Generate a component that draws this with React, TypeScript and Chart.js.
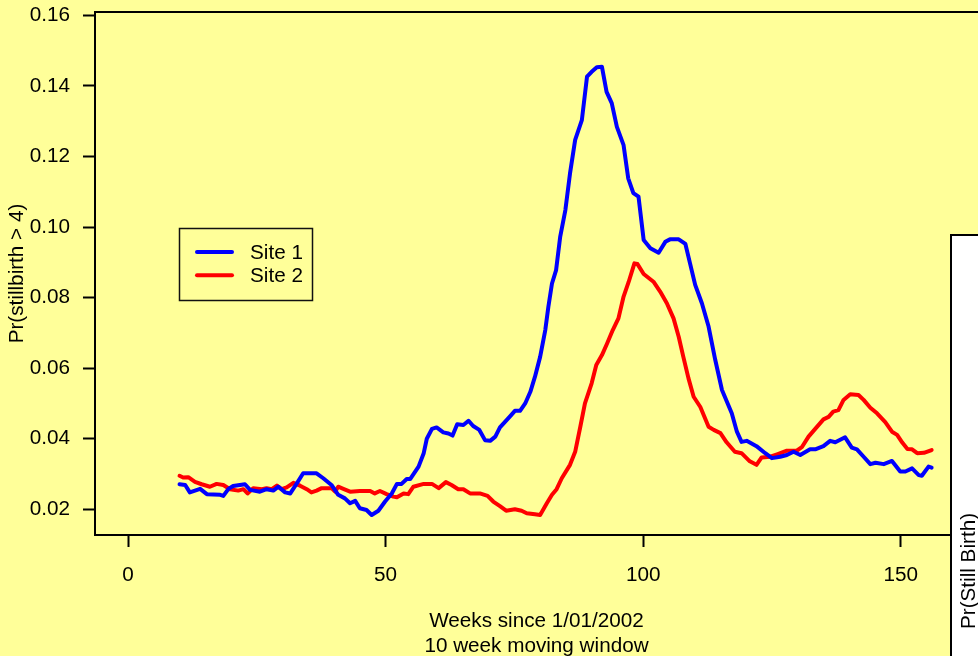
import { useEffect, useRef } from "react";
import { Chart, registerables } from "chart.js";

Chart.register(...registerables);

const FONT = '"Liberation Sans", Arial, Helvetica, sans-serif';
const FS = 20.7;
const BG = "#FFFF99";

const xTickValues = [0, 50, 100, 150];
const yTickValues = [0.02, 0.04, 0.06, 0.08, 0.1, 0.12, 0.14, 0.16];

const seriesLabels = ["Site 1", "Site 2"];
const seriesColors = ["#0000FF", "#FF0000"];

const site1Weeks = [
  10, 11.1, 12, 14, 15.3, 17.9, 18.5, 19.5, 20.4, 22.7, 23.7, 25.6, 26.9, 28.2, 29.2, 30.5, 31.5, 32.8, 34, 36.6,
  37.9, 39.5, 40.8, 42.1, 43.1, 44.1, 45, 46.3, 47.3, 48.6, 49.9, 51.2, 52.2, 53.1, 54.1, 54.8, 56.4, 57.4, 58, 59,
  59.9, 61.2, 62.2, 63, 63.9, 65.1, 66.1, 67, 68.2, 69.3, 70.3, 71.3, 72.2, 74.2, 75.1, 76.1, 77.1, 78.1, 79, 80,
  81, 81.6, 82.3, 83.1, 83.9, 84.9, 85.8, 86.8, 88.1, 89.1, 90, 91, 92, 92.9, 93.9, 94.9, 96.2, 97.1, 98.1, 99.1,
  100.1, 101.4, 103, 104.3, 105.2, 106.9, 108.2, 109.1, 110.1, 111.4, 112.7, 114, 115.3, 117.2, 118.2, 119.1, 120.1,
  122, 123.7, 125, 126.6, 127.9, 129.2, 130.5, 132.4, 133.4, 135, 136.3, 137.3, 139.2, 140.5, 141.5, 142.8, 144.1,
  145.1, 146.7, 148.3, 149.9, 150.9, 152.2, 153.5, 154.1, 155.4, 156,
];
const site1Values = [
  0.0271, 0.0269, 0.0248, 0.0258, 0.0243, 0.0241, 0.0238, 0.0258, 0.0266, 0.0271, 0.0255, 0.025, 0.0257, 0.0253,
  0.0264, 0.0248, 0.0245, 0.0274, 0.0302, 0.0302, 0.0288, 0.0269, 0.0241, 0.0231, 0.0217, 0.0224, 0.0203, 0.0198,
  0.0184, 0.0196, 0.0222, 0.0245, 0.0272, 0.0272, 0.0286, 0.0286, 0.0321, 0.0359, 0.04, 0.0428, 0.0432, 0.0418,
  0.0415, 0.0409, 0.0441, 0.0439, 0.0451, 0.0436, 0.0425, 0.0396, 0.0394, 0.0406, 0.0432, 0.0464, 0.0479, 0.0479,
  0.05, 0.0533, 0.0576, 0.0632, 0.0708, 0.0774, 0.084, 0.0878, 0.0973, 0.1048, 0.1152, 0.1247, 0.1303, 0.1426,
  0.144, 0.1453, 0.1454, 0.1383, 0.1351, 0.1284, 0.1232, 0.1138, 0.1096, 0.1086, 0.0963, 0.094, 0.0927, 0.0958,
  0.0965, 0.0965, 0.0952, 0.0897, 0.0836, 0.0784, 0.0718, 0.0623, 0.0538, 0.0472, 0.042, 0.0391, 0.0394, 0.0379,
  0.0359, 0.0345, 0.0349, 0.0354, 0.0363, 0.0354, 0.037, 0.037, 0.0379, 0.0394, 0.039, 0.0404, 0.0375, 0.037,
  0.0349, 0.0328, 0.0332, 0.0328, 0.0337, 0.0307, 0.0307, 0.0316, 0.0297, 0.0295, 0.0321, 0.0318,
];

const site2Weeks = [
  10, 10.7, 11.7, 13, 14.3, 15.9, 17.2, 18.5, 19.8, 21.4, 22.4, 23.2, 24.3, 26, 26.9, 27.9, 28.9, 29.8, 30.8, 32.1,
  33.4, 34.7, 35.6, 36.6, 37.6, 39.5, 40.2, 40.8, 41.8, 43.1, 45, 47, 47.9, 48.9, 50.2, 51.5, 52.2, 53.5, 54.4,
  55.4, 57.4, 59, 60.3, 61.7, 62.8, 64.1, 65.1, 66.4, 68.3, 69.8, 70.9, 72.2, 73.4, 75.1, 76.4, 77.4, 79, 80, 81.3,
  82.3, 83.2, 84.2, 85.8, 86.8, 87.8, 88.7, 90, 90.9, 92, 93, 94.1, 95.2, 96.2, 97.2, 98.3, 98.9, 100.1, 102, 103.3,
  104.6, 105.9, 106.9, 107.8, 108.8, 109.8, 111.1, 112.7, 113.7, 115, 116.2, 117.8, 119.1, 120.7, 122, 123, 124.7,
  126, 127.9, 129.8, 130.8, 132.1, 133.4, 135, 136, 136.9, 137.9, 138.9, 140.2, 141.8, 142.8, 144.1, 145.4, 147,
  148.3, 149.3, 150.3, 151.3, 152.2, 153.2, 154.5, 156,
];
const site2Values = [
  0.0295, 0.029, 0.0291, 0.0278, 0.0271, 0.0264, 0.0272, 0.0269, 0.0257, 0.0253, 0.0257, 0.0245, 0.026, 0.0257,
  0.026, 0.0257, 0.0267, 0.0257, 0.0262, 0.0275, 0.0267, 0.0257, 0.0248, 0.0253, 0.026, 0.026, 0.025, 0.0264,
  0.0258, 0.025, 0.0252, 0.0252, 0.0245, 0.0252, 0.0243, 0.0236, 0.0234, 0.0245, 0.0243, 0.0264, 0.0272, 0.0272,
  0.026, 0.0277, 0.0269, 0.0257, 0.0257, 0.0245, 0.0245, 0.0238, 0.0222, 0.0209, 0.0196, 0.02, 0.0196, 0.0189,
  0.0186, 0.0184, 0.0217, 0.0241, 0.0257, 0.0288, 0.0326, 0.0363, 0.0434, 0.05, 0.0557, 0.0609, 0.0637, 0.067,
  0.0708, 0.0741, 0.0803, 0.0845, 0.0897, 0.0895, 0.0867, 0.0845, 0.0817, 0.0784, 0.0741, 0.0689, 0.0632, 0.0571,
  0.0519, 0.049, 0.0434, 0.0425, 0.0416, 0.039, 0.0363, 0.0359, 0.0336, 0.0326, 0.0347, 0.0349, 0.0356, 0.0366,
  0.0366, 0.0376, 0.0406, 0.0428, 0.0455, 0.0462, 0.0477, 0.0481, 0.051, 0.0526, 0.0524, 0.051, 0.0488, 0.0472,
  0.0447, 0.042, 0.0411, 0.0389, 0.0371, 0.037, 0.0359, 0.036, 0.0368,
];

const xTitle = ["Weeks since 1/01/2002", "10 week moving window"];
const yTitle = "Pr(stillbirth > 4)";
const sidePanelTitle = "Pr(Still Birth)";

const decorPlugin = {
  id: "decor",
  beforeDraw(chart: any) {
    const ctx = chart.ctx;
    ctx.save();
    ctx.fillStyle = BG;
    ctx.fillRect(0, 0, chart.width, chart.height);
    ctx.restore();
  },
  afterDraw(chart: any) {
    const ctx = chart.ctx;
    const a = chart.chartArea;
    ctx.save();
    // top frame line
    ctx.strokeStyle = "#000";
    ctx.lineWidth = 2;
    ctx.beginPath();
    ctx.moveTo(a.left - 1, a.top);
    ctx.lineTo(a.right, a.top);
    ctx.stroke();

    // legend box
    const lx = 179.5, ly = 228.5, lw = 133, lh = 72;
    ctx.lineWidth = 1.5;
    ctx.strokeStyle = "#111";
    ctx.strokeRect(lx, ly, lw, lh);
    ctx.font = `${FS}px ${FONT}`;
    ctx.textAlign = "left";
    ctx.textBaseline = "middle";
    chart.data.datasets.forEach((ds: any, i: number) => {
      const y = 252 + i * 23.3;
      ctx.strokeStyle = ds.borderColor;
      ctx.lineWidth = 4;
      ctx.lineCap = "round";
      ctx.beginPath();
      ctx.moveTo(197, y);
      ctx.lineTo(232, y);
      ctx.stroke();
      ctx.fillStyle = "#000";
      ctx.fillText(ds.label, 250, y + 1);
    });

    // side panel of neighbouring plot
    ctx.fillStyle = "#FFFFFF";
    ctx.fillRect(951, 235, chart.width - 951, chart.height - 235);
    ctx.strokeStyle = "#000";
    ctx.lineWidth = 2;
    ctx.lineCap = "butt";
    ctx.beginPath();
    ctx.moveTo(951, chart.height);
    ctx.lineTo(951, 235);
    ctx.lineTo(chart.width, 235);
    ctx.stroke();
    ctx.translate(975, 571);
    ctx.rotate(-Math.PI / 2);
    ctx.fillStyle = "#000";
    ctx.textAlign = "center";
    ctx.textBaseline = "alphabetic";
    ctx.font = `${FS}px ${FONT}`;
    ctx.fillText(sidePanelTitle, 0, 0);
    ctx.restore();
  },
};

export default function App() {
  const ref = useRef<HTMLCanvasElement | null>(null);

  useEffect(() => {
    if (!ref.current) return;
    const mk = (weeks: number[], vals: number[]) => weeks.map((w, i) => ({ x: w, y: vals[i] }));
    const axisCommon = {
      grid: {
        drawOnChartArea: false,
        drawTicks: true,
        tickLength: 12,
        tickColor: "#000",
        tickWidth: 2,
      },
      border: { display: true, color: "#000", width: 2 },
    };
    const chart = new Chart(ref.current, {
      type: "line",
      data: {
        datasets: [
          {
            label: seriesLabels[0],
            data: mk(site1Weeks, site1Values),
            borderColor: seriesColors[0],
            backgroundColor: seriesColors[0],
            borderWidth: 4,
            pointRadius: 0,
            tension: 0,
            borderJoinStyle: "round",
            borderCapStyle: "round",
            fill: false,
          },
          {
            label: seriesLabels[1],
            data: mk(site2Weeks, site2Values),
            borderColor: seriesColors[1],
            backgroundColor: seriesColors[1],
            borderWidth: 4,
            pointRadius: 0,
            tension: 0,
            borderJoinStyle: "round",
            borderCapStyle: "round",
            fill: false,
          },
        ],
      },
      options: {
        animation: false,
        responsive: false,
        devicePixelRatio: 1,
        layout: { padding: { top: 12, left: 0, right: 0, bottom: 0 } },
        plugins: { legend: { display: false }, tooltip: { enabled: false } },
        events: [],
        scales: {
          x: {
            type: "linear",
            position: "bottom",
            min: -6.41,
            max: 165.0,
            afterBuildTicks: (s: any) => {
              s.ticks = xTickValues.map((v) => ({ value: v }));
            },
            afterFit: (s: any) => {
              s.height = 121;
              s.paddingLeft = 0;
              s.paddingRight = 0;
            },
            ...axisCommon,
            ticks: {
              color: "#000",
              font: { family: FONT, size: FS, lineHeight: 1.2 },
              padding: 16,
              maxRotation: 0,
              autoSkip: false,
              callback: (v: any) => String(v),
            },
            title: {
              display: true,
              text: xTitle,
              color: "#000",
              font: { family: FONT, size: FS, lineHeight: 1.21 },
              padding: { top: 0, bottom: -3 },
            },
          },
          y: {
            type: "linear",
            position: "left",
            min: 0.012717,
            max: 0.16094,
            afterBuildTicks: (s: any) => {
              s.ticks = yTickValues.map((v) => ({ value: v }));
            },
            afterFit: (s: any) => {
              s.width = 95;
              s.paddingTop = 0;
              s.paddingBottom = 0;
            },
            ...axisCommon,
            ticks: {
              color: "#000",
              font: { family: FONT, size: FS },
              padding: 13,
              autoSkip: false,
              callback: (v: any) => Number(v).toFixed(2),
            },
            title: {
              display: true,
              text: yTitle,
              color: "#000",
              font: { family: FONT, size: FS, lineHeight: 1.2 },
              padding: { top: 5, bottom: 0 },
            },
          },
        },
      } as any,
      plugins: [decorPlugin],
    });
    return () => chart.destroy();
  }, []);

  return (
    <div
      style={{
        position: "fixed",
        left: 0,
        top: 0,
        width: 978,
        height: 656,
        background: BG,
        overflow: "hidden",
      }}
    >
      <canvas ref={ref} width={978} height={656} style={{ display: "block", width: 978, height: 656 }} />
    </div>
  );
}
